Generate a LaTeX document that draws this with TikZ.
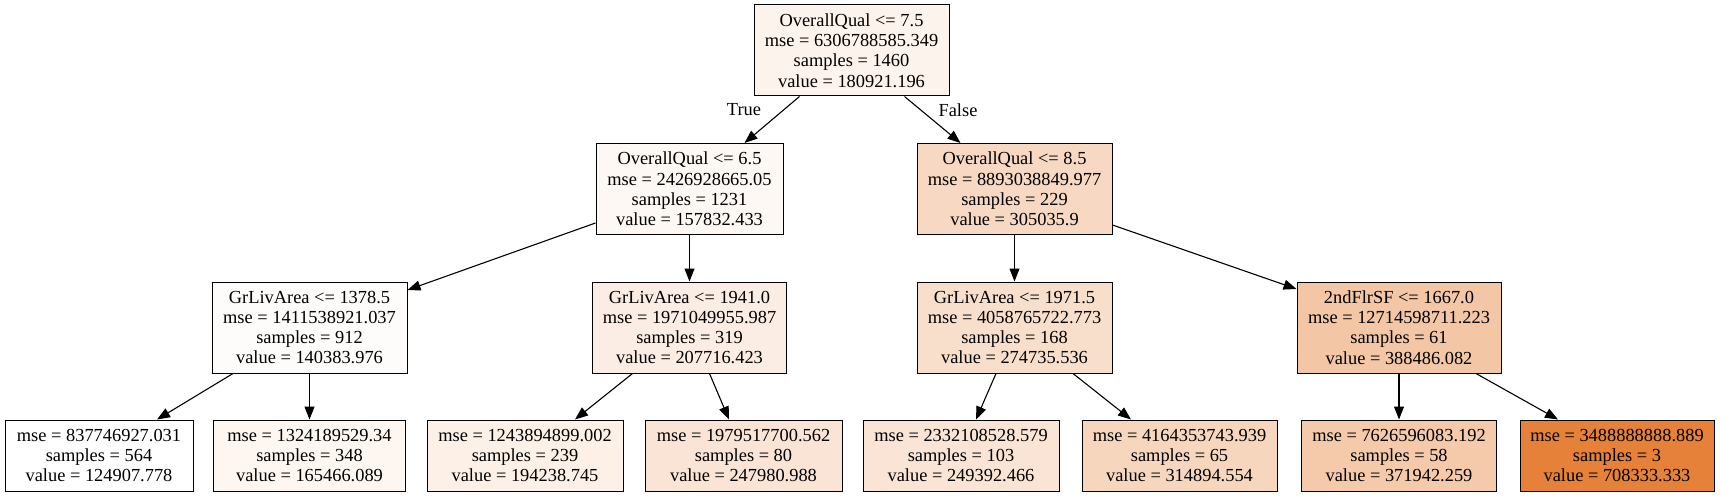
\documentclass[tikz,border=0pt]{standalone}
\usepackage{fontspec}
\setmainfont{Liberation Serif}
\usetikzlibrary{arrows.meta}
\definecolor{c0}{RGB}{252,243,236}
\definecolor{c1l}{RGB}{253,248,244}
\definecolor{c1r}{RGB}{247,216,194}
\definecolor{c2a}{RGB}{254,252,250}
\definecolor{c2b}{RGB}{251,237,227}
\definecolor{c2c}{RGB}{248,223,204}
\definecolor{c2d}{RGB}{243,198,165}
\definecolor{c31}{RGB}{255,255,255}
\definecolor{c32}{RGB}{253,246,241}
\definecolor{c33}{RGB}{252,240,231}
\definecolor{c34}{RGB}{249,228,213}
\definecolor{c35}{RGB}{249,228,213}
\definecolor{c36}{RGB}{247,214,190}
\definecolor{c37}{RGB}{244,202,171}
\definecolor{c38}{RGB}{229,129,57}
\tikzset{
  treebox/.style={draw=black, line width=1pt, rectangle, align=center, inner sep=0pt,
    font=\fontsize{18.4}{20.3}\selectfont, minimum height=91pt},
  leafbox/.style={treebox, minimum height=71pt},
  edge/.style={line width=1.1pt, -{Triangle[length=13pt,width=10pt]}},
  lbl/.style={font=\fontsize{18.4}{20.3}\selectfont, inner sep=0pt}
}
\begin{document}
\begin{tikzpicture}[x=1pt,y=-1pt]
\useasboundingbox (0,0) rectangle (1720,497);
% root
\node[treebox, fill=c0, minimum width=195pt] (root) at (851.5,50.5) {OverallQual <= 7.5\\mse = 6306788585.349\\samples = 1460\\value = 180921.196};
% level 1
\node[treebox, fill=c1l, minimum width=187pt] (l1l) at (689.5,189) {OverallQual <= 6.5\\mse = 2426928665.05\\samples = 1231\\value = 157832.433};
\node[treebox, fill=c1r, minimum width=195pt] (l1r) at (1014.5,189) {OverallQual <= 8.5\\mse = 8893038849.977\\samples = 229\\value = 305035.9};
% level 2
\node[treebox, fill=c2a, minimum width=195pt] (l2a) at (309.5,327.5) {GrLivArea <= 1378.5\\mse = 1411538921.037\\samples = 912\\value = 140383.976};
\node[treebox, fill=c2b, minimum width=194pt] (l2b) at (689.5,327.5) {GrLivArea <= 1941.0\\mse = 1971049955.987\\samples = 319\\value = 207716.423};
\node[treebox, fill=c2c, minimum width=195pt] (l2c) at (1014.5,327.5) {GrLivArea <= 1971.5\\mse = 4058765722.773\\samples = 168\\value = 274735.536};
\node[treebox, fill=c2d, minimum width=204pt] (l2d) at (1399,327.5) {2ndFlrSF <= 1667.0\\mse = 12714598711.223\\samples = 61\\value = 388486.082};
% leaves
\node[leafbox, fill=c31, minimum width=188pt] (c1) at (99,455.5) {mse = 837746927.031\\samples = 564\\value = 124907.778};
\node[leafbox, fill=c32, minimum width=192pt] (c2) at (309.5,455.5) {mse = 1324189529.34\\samples = 348\\value = 165466.089};
\node[leafbox, fill=c33, minimum width=196pt] (c3) at (525,455.5) {mse = 1243894899.002\\samples = 239\\value = 194238.745};
\node[leafbox, fill=c34, minimum width=197pt] (c4) at (743.5,455.5) {mse = 1979517700.562\\samples = 80\\value = 247980.988};
\node[leafbox, fill=c35, minimum width=196pt] (c5) at (961,455.5) {mse = 2332108528.579\\samples = 103\\value = 249392.466};
\node[leafbox, fill=c36, minimum width=195pt] (c6) at (1179.5,455.5) {mse = 4164353743.939\\samples = 65\\value = 314894.554};
\node[leafbox, fill=c37, minimum width=195pt] (c7) at (1399,455.5) {mse = 7626596083.192\\samples = 58\\value = 371942.259};
\node[leafbox, fill=c38, minimum width=194pt] (c8) at (1617,455.5) {mse = 3488888888.889\\samples = 3\\value = 708333.333};
% edge labels
\node[lbl] (ltrue) at (744,110) {True};
\node[lbl] (lfalse) at (958,110) {False};
% edges
\draw[edge] ([xshift=-52pt]root.south) -- ([xshift=55pt]l1l.north);
\draw[edge] ([xshift=53pt]root.south) -- ([xshift=-54pt]l1r.north);
\draw[edge] ([yshift=-34pt]l1l.west) -- ([yshift=37.5pt]l2a.east);
\draw[edge] (l1l.south) -- (l2b.north);
\draw[edge] (l1r.south) -- (l2c.north);
\draw[edge] ([yshift=-36pt]l1r.east) -- ([yshift=38.5pt]l2d.west);
\draw[edge] ([xshift=-76.5pt]l2a.south) -- ([xshift=58pt]c1.north);
\draw[edge] (l2a.south) -- (c2.north);
\draw[edge] ([xshift=-57pt]l2b.south) -- ([xshift=50pt]c3.north);
\draw[edge] ([xshift=20pt]l2b.south) -- ([xshift=-14.5pt]c4.north);
\draw[edge] ([xshift=-18.5pt]l2c.south) -- ([xshift=15pt]c5.north);
\draw[edge] ([xshift=58.5pt]l2c.south) -- ([xshift=-48.5pt]c6.north);
\draw[edge] (l2d.south) -- (c7.north);
\draw[edge] ([xshift=77pt]l2d.south) -- ([xshift=-59pt]c8.north);
\end{tikzpicture}
\end{document}
